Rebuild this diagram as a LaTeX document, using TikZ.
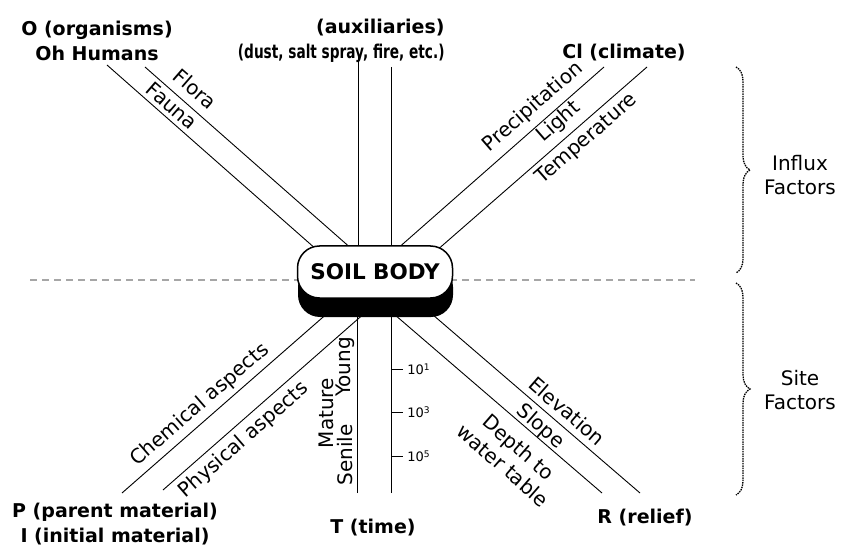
\documentclass[tikz,border=0pt]{standalone}
\usepackage{fontspec}
\usepackage{graphicx}
\setmainfont{DejaVu Sans}
\usetikzlibrary{shadows,decorations.pathreplacing}

\tikzset{
  factor/.style={font=\fontsize{19}{25}\selectfont\bfseries, align=center, inner sep=0pt},
  aspect/.style={font=\fontsize{20}{24}\selectfont, align=center, inner sep=0pt},
  agelbl/.style={font=\fontsize{13}{15}\selectfont, anchor=west, inner sep=0pt, xshift=4pt},
  soilbox/.style={draw, line width=1.5pt, fill=white, rounded corners=22pt,
    minimum width=155pt, minimum height=52pt, font=\fontsize{21.5}{24}\selectfont\bfseries,
    drop shadow={shadow xshift=0.5pt, shadow yshift=-19pt, opacity=1, fill=black}},
  midline/.style={black!35, line width=1.5pt, dash pattern=on 7pt off 5pt},
  dotbrace/.style={decorate, decoration={brace, amplitude=14pt}, line width=1.3pt,
    dash pattern=on 1.5pt off 0.9pt}
}

\begin{document}
\begin{tikzpicture}[x=1pt, y=-1pt, line width=0.9pt]
    \useasboundingbox (0,0) rectangle (841,548);

    % outer and inner ends of the factor lines
    \coordinate (o1) at (107,65);  \coordinate (o1i) at (342,272);
    \coordinate (o2) at (145,67);  \coordinate (o2i) at (378,272);
    \coordinate (a1) at (358,57);  \coordinate (a1i) at (358,272);
    \coordinate (a2) at (391,67);  \coordinate (a2i) at (391,272);
    \coordinate (c1) at (604,67);  \coordinate (c1i) at (371,272);
    \coordinate (c2) at (647,67);  \coordinate (c2i) at (412,272);
    \coordinate (p1) at (122,493); \coordinate (p1i) at (354,290);
    \coordinate (p2) at (163,490); \coordinate (p2i) at (391,290);
    \coordinate (t1) at (357,493); \coordinate (t1i) at (357,290);
    \coordinate (t2) at (391,493); \coordinate (t2i) at (391,290);
    \coordinate (r1) at (602,493); \coordinate (r1i) at (366,290);
    \coordinate (r2) at (640,493); \coordinate (r2i) at (404,290);

    \foreach \f in {o1,o2,a1,a2,c1,c2,p1,p2,t1,t2,r1,r2}
        \draw (\f) -- (\f i);

    % time scale
    \foreach \yy/\ee in {369/1,412/3,456/5}
        \draw (391,\yy) -- (403,\yy) node[agelbl] (tk\ee) {10\textsuperscript{\ee}};

    % split between influx and site factors
    \coordinate (dl) at (30,280);
    \coordinate (dr) at (695,280);
    \draw[midline] (dl) -- (dr);

    \node[soilbox] (soil) at (375,272) {SOIL BODY};

    % main factors
    \node[factor] (org) at (97,41) {O (organisms)\\Oh Humans};
    \node[factor, align=right, anchor=east] (aux) at (445,41)
        {(auxiliaries)\\\scalebox{0.72}[1]{(dust, salt spray, fire, etc.)}};
    \node[factor] (clim) at (624,53) {Cl (climate)};
    \node[factor] (par) at (115,524) {P (parent material)\\I (initial material)};
    \node[factor] (time) at (373,528) {T (time)};
    \node[factor] (rel) at (645,518) {R (relief)};

    % aspects along the lines
    \node[aspect, rotate=-41] (flora) at (195,89) {Flora};
    \node[aspect, rotate=-41] (fauna) at (172,106) {Fauna};
    \node[aspect, rotate=41] (prec) at (533,107) {Precipitation};
    \node[aspect, rotate=41] (light) at (559,122) {Light};
    \node[aspect, rotate=41] (temp) at (587,139) {Temperature};
    \node[aspect, rotate=41] (chem) at (200,405) {Chemical aspects};
    \node[aspect, rotate=41] (phys) at (244,440) {Physical aspects};
    \node[aspect, rotate=90] (young) at (345,367) {Young};
    \node[aspect, rotate=90] (mature) at (326,413) {Mature};
    \node[aspect, rotate=90] (senile) at (345,455) {Senile};
    \node[aspect, rotate=-41] (elev) at (567,411) {Elevation};
    \node[aspect, rotate=-41] (slope) at (540,427) {Slope};
    \node[aspect, rotate=-41] (depth) at (511,456) {Depth to\\water table};

    % braces
    \coordinate (inf1) at (736,67);  \coordinate (inf2) at (736,273);
    \coordinate (sit1) at (736,283); \coordinate (sit2) at (736,495);
    \draw[dotbrace] (inf1) -- (inf2);
    \draw[dotbrace] (sit1) -- (sit2);
    \node[aspect] (influx) at (800,175) {Influx\\Factors};
    \node[aspect] (site) at (800,390) {Site\\Factors};
\end{tikzpicture}
\end{document}
